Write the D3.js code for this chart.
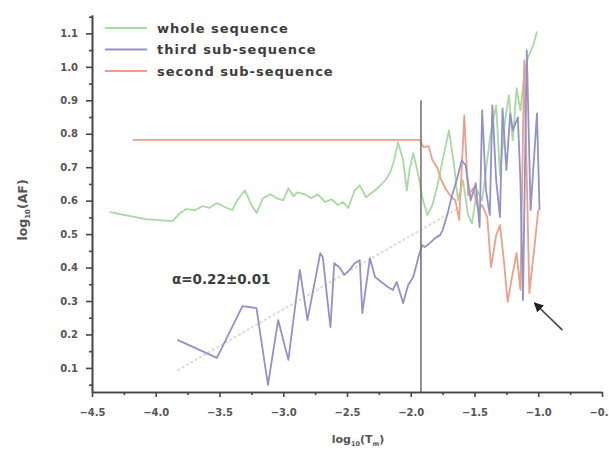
<!DOCTYPE html>
<html>
<head>
<meta charset="utf-8">
<script src="https://cdn.jsdelivr.net/npm/d3@7"></script>
<style>
  body { margin: 0; background: #fff; }
  text { font-family: "DejaVu Sans", sans-serif; font-weight: bold; }
</style>
</head>
<body>
<script>

// whole sequence (green)
var wholeX = [-4.36,-4.24,-4.08,-3.97,-3.87,-3.81,-3.76,-3.69,-3.63,-3.58,-3.52,-3.46,-3.40,-3.36,-3.30,-3.25,-3.21,-3.16,-3.10,-3.05,-3.00,-2.96,-2.92,-2.89,-2.83,-2.78,-2.73,-2.67,-2.62,-2.57,-2.53,-2.49,-2.44,-2.40,-2.35,-2.31,-2.26,-2.20,-2.16,-2.13,-2.10,-2.06,-2.03,-2.01,-1.98,-1.94,-1.91,
              -1.87,-1.83,-1.79,-1.75,-1.70,-1.66,-1.63,-1.59,-1.55,-1.52,-1.48,-1.44,-1.40,-1.37,-1.33,-1.30,-1.26,-1.23,-1.20,-1.17,-1.14,-1.11,-1.08,-1.04,-1.01];
var wholeY = [0.566,0.557,0.545,0.542,0.539,0.563,0.575,0.572,0.584,0.578,0.593,0.581,0.572,0.601,0.631,0.587,0.563,0.607,0.619,0.607,0.601,0.637,0.613,0.625,0.619,0.607,0.619,0.596,0.604,0.587,0.596,0.578,0.631,0.646,0.610,0.622,0.637,0.661,0.685,0.721,0.775,0.721,0.631,0.691,0.742,0.676,0.610,
              0.557,0.587,0.646,0.721,0.810,0.706,0.601,0.661,0.557,0.533,0.631,0.601,0.721,0.810,0.885,0.676,0.840,0.915,0.781,0.936,0.870,0.975,1.028,1.064,1.106];

// third sub-sequence (blue)
var thirdX = [-3.83,-3.52,-3.32,-3.21,-3.12,-3.04,-2.96,-2.87,-2.81,-2.71,-2.69,-2.63,-2.60,-2.56,-2.52,-2.48,-2.44,-2.40,-2.38,-2.32,-2.28,-2.23,-2.18,-2.14,-2.11,-2.06,-2.02,-1.98,-1.94,-1.91,
              -1.89,-1.85,-1.81,-1.77,-1.75,-1.71,-1.68,-1.64,-1.60,-1.57,-1.53,-1.49,-1.46,-1.44,-1.41,-1.38,-1.36,-1.33,-1.30,-1.28,-1.25,-1.22,-1.20,-1.16,-1.14,-1.12,-1.09,-1.06,-1.01,-0.99];
var thirdY = [0.184,0.130,0.285,0.279,0.049,0.243,0.124,0.393,0.243,0.443,0.431,0.222,0.413,0.401,0.378,0.393,0.413,0.422,0.264,0.428,0.372,0.357,0.342,0.333,0.357,0.294,0.348,0.372,0.431,0.467,
              0.461,0.473,0.488,0.497,0.512,0.563,0.610,0.661,0.721,0.706,0.601,0.652,0.521,0.870,0.631,0.557,0.885,0.661,0.551,0.876,0.691,0.861,0.810,0.849,0.661,0.303,1.049,0.572,0.861,0.572];

// second sub-sequence (red)
var secondX = [-4.18,-1.93,-1.90,-1.86,-1.83,-1.79,-1.76,-1.72,-1.68,-1.65,-1.62,-1.58,-1.55,-1.51,-1.47,-1.44,-1.40,-1.37,-1.33,-1.30,-1.27,-1.24,-1.21,-1.17,-1.14,-1.11,-1.07,-1.03,-1.00];
var secondY = [0.782,0.782,0.760,0.763,0.721,0.697,0.661,0.631,0.610,0.601,0.542,0.855,0.616,0.637,0.572,0.587,0.551,0.401,0.497,0.527,0.422,0.297,0.363,0.443,0.333,1.019,0.324,0.461,0.572];

var seriesNames = ["whole sequence", "third sub-sequence", "second sub-sequence"];
var seriesColors = ["#a9d9a3", "#9292c9", "#eba08c"];

var xTicks = [-4.5,-4.0,-3.5,-3.0,-2.5,-2.0,-1.5,-1.0,-0.5];
var yTicks = [0.1,0.2,0.3,0.4,0.5,0.6,0.7,0.8,0.9,1.0,1.1];

var alpha = 0.22, alphaErr = 0.01, fitB = 0.935;
var fitRange = [-3.83, -1.62];
var cutX = -1.92, cutTop = 0.9;
var arrowFrom = [-0.81, 0.213], arrowTo = [-1.03, 0.294];

var width = 609, height = 452;

var svg = d3.select("body").append("svg")
            .attr("width", width)
            .attr("height", height);

var xScale = d3.scaleLinear().domain([-4.5, -0.5]).range([92, 602]);
var yScale = d3.scaleLinear().domain([0.028, 1.155]).range([392, 15]);

// fit line
svg.append("line")
   .attr("x1", xScale(fitRange[0])).attr("y1", yScale(alpha*fitRange[0] + fitB))
   .attr("x2", xScale(fitRange[1])).attr("y2", yScale(alpha*fitRange[1] + fitB))
   .style("stroke", "#e6d9d6").style("stroke-width", 2).style("stroke-dasharray", "3,2");

var line = d3.line().x(d => xScale(d[0])).y(d => yScale(d[1]));

var seriesData = [
  d3.zip(wholeX, wholeY),
  d3.zip(thirdX, thirdY),
  d3.zip(secondX, secondY)
];

[0, 2, 1].forEach(function(i)
{
  svg.append("path")
     .datum(seriesData[i])
     .attr("d", line)
     .style("fill", "none")
     .style("stroke", seriesColors[i])
     .style("stroke-width", 1.8)
     .style("stroke-linejoin", "round");
});

// vertical cut
svg.append("line")
   .attr("x1", xScale(cutX)).attr("x2", xScale(cutX))
   .attr("y1", yScale(cutTop)).attr("y2", yScale(0.028))
   .style("stroke", "#7a6868").style("stroke-width", 1.5);

// axes
var yAxis = svg.append("g")
   .attr("transform", "translate(92,0)")
   .call(d3.axisLeft(yScale).tickValues(yTicks).tickFormat(d3.format(".1f")).tickSize(6).tickSizeOuter(0));
svg.append("g")
   .attr("transform", "translate(92,0)")
   .call(d3.axisLeft(yScale).tickValues(d3.range(0.05, 1.16, 0.1)).tickFormat("").tickSize(3).tickSizeOuter(0));

var xAxis = svg.append("g")
   .attr("transform", "translate(0,392)")
   .call(d3.axisBottom(xScale).tickValues(xTicks).tickFormat(d3.format(".1f")).tickSize(5).tickSizeOuter(0));
svg.append("g")
   .attr("transform", "translate(0,392)")
   .call(d3.axisBottom(xScale).tickValues(d3.range(-4.25, -0.5, 0.5)).tickFormat("").tickSize(3).tickSizeOuter(0));

svg.selectAll(".domain, .tick line").style("stroke", "#4a4444").style("stroke-width", 1.6);
svg.selectAll(".tick text").style("font-size", "10px").style("fill", "#555");
yAxis.selectAll(".tick text").attr("x", -14);
xAxis.selectAll(".tick text").attr("y", 17);

// axis titles
var yt = svg.append("text")
   .attr("transform", "translate(27,210) rotate(-90)")
   .attr("text-anchor", "middle")
   .style("font-size", "12.5px").style("fill", "#555");
yt.append("tspan").text("log");
yt.append("tspan").text("10").attr("dy", 3).style("font-size", "7px");
yt.append("tspan").text("(AF)").attr("dy", -3);

var xt = svg.append("text")
   .attr("x", 358).attr("y", 443)
   .attr("text-anchor", "middle")
   .style("font-size", "11px").style("fill", "#555");
xt.append("tspan").text("log");
xt.append("tspan").text("10").attr("dy", 3).style("font-size", "6.5px");
xt.append("tspan").text("(T").attr("dy", -3);
xt.append("tspan").text("m").attr("dy", 3).style("font-size", "6.5px");
xt.append("tspan").text(")").attr("dy", -3);

// legend
var legend = svg.append("g");
seriesNames.forEach(function(name, i)
{
  var ly = 28 + i*21.5;
  legend.append("line")
        .attr("x1", 105).attr("x2", 147).attr("y1", ly).attr("y2", ly)
        .style("stroke", seriesColors[i]).style("stroke-width", 1.8);
  legend.append("text")
        .attr("x", 157).attr("y", ly + 4.5)
        .text(name)
        .style("font-size", "13px").style("fill", "#3d3d3d")
        .style("letter-spacing", "1px");
});

// alpha annotation
svg.append("text")
   .attr("x", 172).attr("y", 284)
   .text("\u03b1=" + alpha.toFixed(2) + "\u00b1" + alphaErr.toFixed(2))
   .style("font-size", "13.5px").style("fill", "#3d3d3d");

// arrow
svg.append("defs").append("marker")
   .attr("id", "head").attr("viewBox", "0 0 10 10")
   .attr("refX", 9).attr("refY", 5)
   .attr("markerWidth", 6).attr("markerHeight", 6)
   .attr("orient", "auto")
   .append("path").attr("d", "M0,0 L10,5 L0,10 z").style("fill", "#222");

svg.append("line")
   .attr("x1", xScale(arrowFrom[0])).attr("y1", yScale(arrowFrom[1]))
   .attr("x2", xScale(arrowTo[0])).attr("y2", yScale(arrowTo[1]))
   .style("stroke", "#444").style("stroke-width", 1.6)
   .attr("marker-end", "url(#head)");

</script>
</body>
</html>
